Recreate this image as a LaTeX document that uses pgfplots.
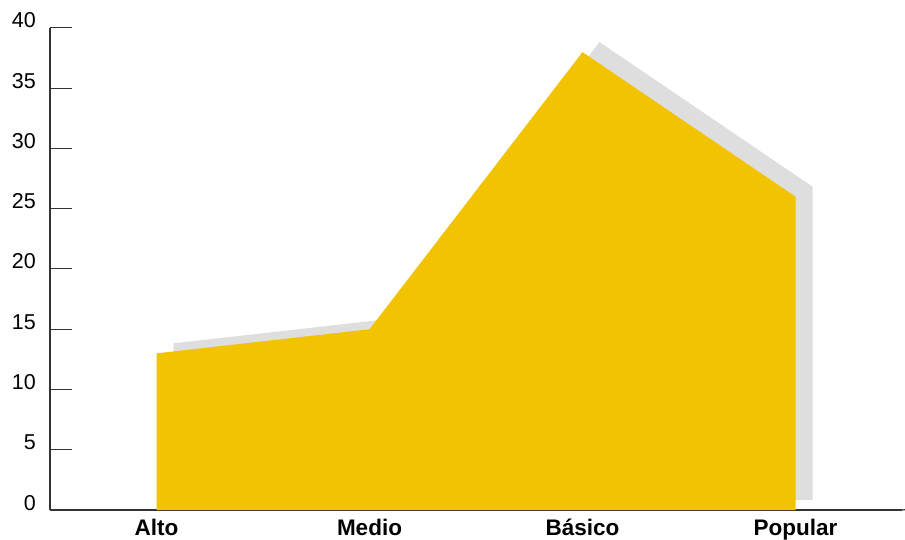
\documentclass[border=0pt]{standalone}
\usepackage{pgfplots}
\pgfplotsset{compat=1.18}
\usepackage{fontspec}
\setmainfont{Liberation Sans}
\definecolor{gold}{HTML}{F2C300}
\definecolor{shadowgray}{HTML}{DEDEDE}
\definecolor{axisgray}{HTML}{333333}
\begin{document}
\begin{tikzpicture}
\begin{axis}[
  scale only axis, width=852bp, height=482bp,
  xmin=-0.5, xmax=3.5, ymin=0, ymax=40,
  axis lines*=left,
  axis line style={axisgray, line width=1.2bp},
  xtick={0,1,2,3}, xticklabels={Alto,Medio,Básico,Popular},
  x tick style={draw=none},
  xticklabel style={font=\fontsize{22.5bp}{24bp}\selectfont\bfseries, anchor=base, inner sep=0pt, yshift=-25.5bp},
  ytick={0,5,...,40},
  y tick style={axisgray, line width=1bp},
  tick align=inside, major tick length=22bp,
  yticklabel style={font=\fontsize{21.5bp}{23bp}\selectfont, anchor=base east, inner sep=0pt, xshift=-14bp},
  /pgf/number format/assume math mode=true,
  clip=false,
]
\addplot[fill=shadowgray, draw=none] coordinates {(0.08,0.83) (0.08,13.83) (1.08,15.83) (2.08,38.83) (3.08,26.83) (3.08,0.83)};
\addplot[fill=gold, draw=none] coordinates {(0,0) (0,13) (1,15) (2,38) (3,26) (3,0)};
\draw[axisgray, line width=1.2bp] (axis cs:3.5,0) -- ++(0,12bp);
\end{axis}
\pgfresetboundingbox
\path[use as bounding box] (-50bp,-30bp) rectangle (855bp,510bp);
\end{tikzpicture}
\end{document}
